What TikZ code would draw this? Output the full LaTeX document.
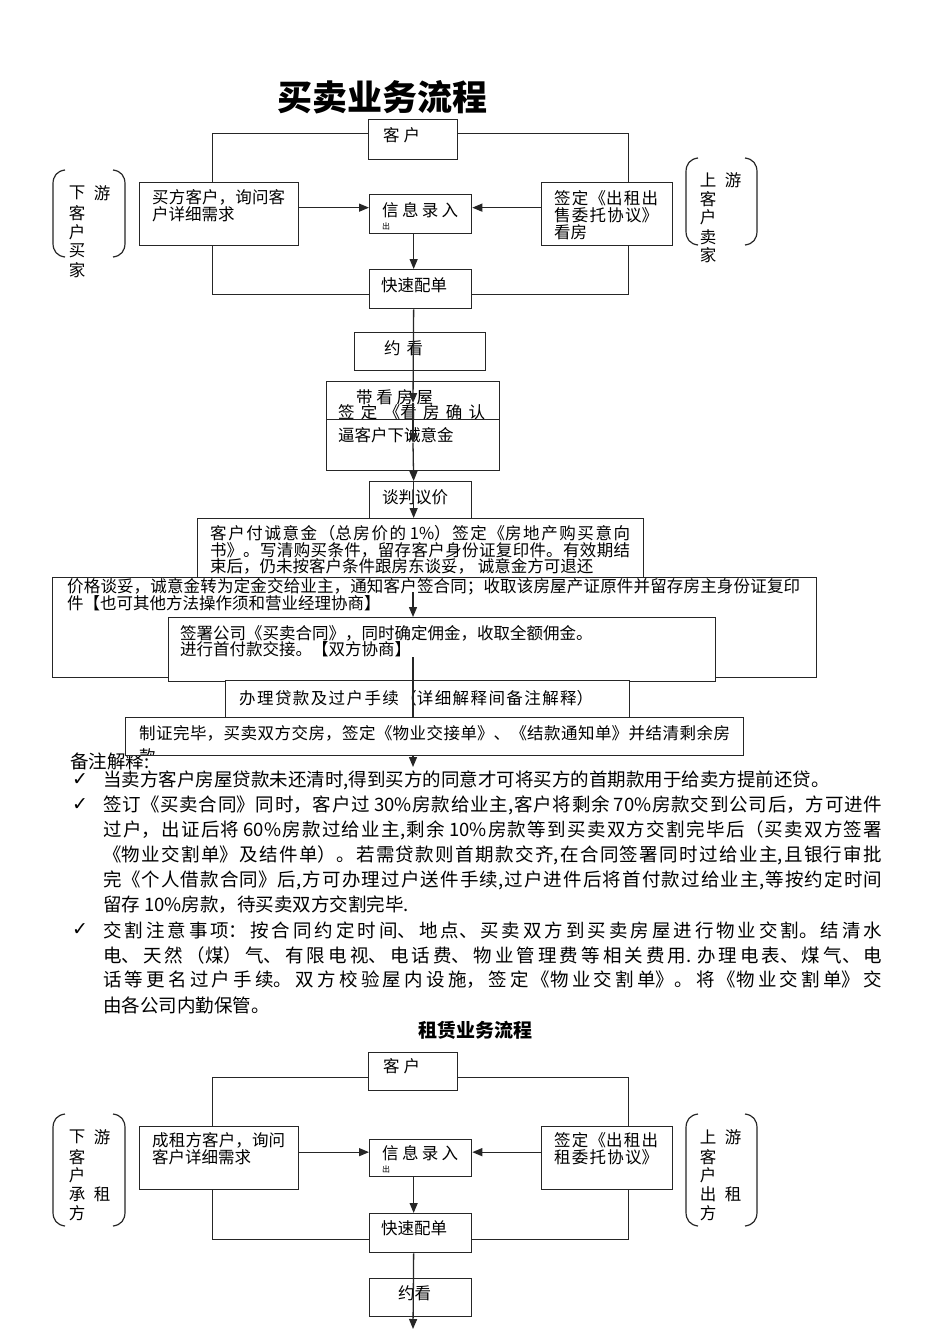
\documentclass[tikz,border=0pt]{standalone}
\usepackage{fontspec}
\setmainfont{Noto Sans CJK SC}
\newfontfamily\dejavu{DejaVu Sans}
\usetikzlibrary{arrows.meta}
\XeTeXlinebreaklocale "zh"
\XeTeXlinebreakskip=0pt plus 1pt
\tikzset{
  box/.style={draw=black!85, line width=1.3pt, fill=white, anchor=north west, inner sep=0pt},
  conn/.style={draw=black!85, line width=1.3pt},
  arr/.style={conn, -{Triangle[length=10pt,width=8pt]}},
  txt/.style={anchor=west, inner sep=0pt, font=\fontsize{16.5}{18}\selectfont},
  jus/.style={txt, text width=#1, align=justify,
    execute at begin node={\XeTeXlinebreakskip=0pt plus 1fil\parfillskip=0pt\relax}},
  note/.style={anchor=west, inner sep=0pt, font=\fontsize{18.5}{20}\selectfont},
  njus/.style={note, text width=779pt, align=justify,
    execute at begin node={\XeTeXlinebreakskip=0pt plus 1fil\parfillskip=0pt\relax}},
  chk/.style={inner sep=0pt, font=\dejavu\fontsize{19}{20}\selectfont},
  vch/.style={inner sep=0pt, font=\fontsize{16.5}{18}\selectfont},
  paren/.style={draw=black!85, line width=1.2pt},
}
\begin{document}
\begin{tikzpicture}[x=1pt,y=-1pt]
\useasboundingbox[fill=white] (0,0) rectangle (950,1344);

% ---------- titles ----------
\node[inner sep=0pt, font=\fontsize{35}{40}\selectfont\bfseries] (title1) at (382,97) {买卖业务流程};

% ---------- side brackets (top) ----------
\draw[paren] (65,170) .. controls (57,171) and (53,176) .. (53,184) -- (53,243) .. controls (53,251) and (57,256) .. (65,257);
\draw[paren] (113,170) .. controls (121,171) and (125,176) .. (125,184) -- (125,243) .. controls (125,251) and (121,256) .. (113,257);
\foreach \c/\x/\y [count=\i] in {下/77/193, 游/102/193, 客/77/213, 户/77/232, 买/77/251, 家/77/270}
  \node[vch] (la\i) at (\x,\y) {\c};
\draw[paren] (698,158) .. controls (690,159) and (686,164) .. (686,172) -- (686,231) .. controls (686,239) and (690,244) .. (698,245);
\draw[paren] (745,158) .. controls (753,159) and (757,164) .. (757,172) -- (757,231) .. controls (757,239) and (753,244) .. (745,245);
\foreach \c/\x/\y [count=\i] in {上/708/180, 游/733/180, 客/708/199, 户/708/217, 卖/708/237, 家/708/255}
  \node[vch] (ra\i) at (\x,\y) {\c};

% ---------- top flow boxes ----------
\node[box, minimum width=89pt, minimum height=40pt] (kehu1) at (368,119) {};
\node[jus=37pt] (kehu1t) at (383,135) {客户};

\node[box, minimum width=159pt, minimum height=63pt] (maifang) at (139,182) {};
\node[jus=133pt] (maifang1) at (152,197) {买方客户，询问客};
\node[txt] (maifang2) at (152,214) {户详细需求};

\node[box, minimum width=102pt, minimum height=39pt] (xinxi1) at (369,194) {};
\node[jus=76pt] (xinxi1t) at (382,210) {信息录入};
\begin{scope}
  \clip (370,195) rectangle (470,229);
  \node[inner sep=0pt, font=\fontsize{8}{8}\selectfont] (xinxi1c) at (386,226) {出};
\end{scope}

\node[box, minimum width=102pt, minimum height=39pt] (kuaisu1) at (369,269) {};
\node[txt] (kuaisu1t) at (381,285) {快速配单};

\node[box, minimum width=131pt, minimum height=63pt] (qianding1) at (541,182) {};
\node[jus=104pt] (qd1a) at (554,198) {签定《出租出};
\node[jus=104pt] (qd1b) at (554,215) {售委托协议》};
\node[txt] (qd1c) at (554,232) {看房};

\node[box, minimum width=131pt, minimum height=38pt] (yuekan1) at (354,332) {};
\node[jus=39pt] (yuekan1t) at (384,348) {约看};

\node[box, minimum width=173pt, minimum height=38pt] (daikan) at (326,381) {};
\node[jus=77pt] (daikan1) at (356,397) {带看房屋};
\node[jus=147pt] (daikan2) at (338,412) {签定《看房确认};
\node[box, minimum width=173pt, minimum height=51pt] (bi) at (326,419) {};
\node[txt] (bit) at (338,435) {逼客户下诚意金};

\node[box, minimum width=102pt, minimum height=40pt] (tanpan) at (369,481) {};
\node[txt] (tanpant) at (382,497) {谈判议价};

\node[box, minimum width=446pt, minimum height=70pt] (kehufu) at (197,518) {};
\node[jus=420pt] (kf1) at (210,533) {客户付诚意金（总房价的 1\%）签定《房地产购买意向};
\node[jus=420pt] (kf2) at (210,550) {书》。写清购买条件，留存客户身份证复印件。有效期结};
\node[txt] (kf3) at (210,566) {束后，仍未按客户条件跟房东谈妥， 诚意金方可退还};

\node[box, minimum width=764pt, minimum height=100pt] (jiage) at (52,577) {};
\node[jus=733pt] (jg1) at (67,587) {价格谈妥，诚意金转为定金交给业主，通知客户签合同；收取该房屋产证原件并留存房主身份证复印};
\node[txt] (jg2) at (67,603) {件【也可其他方法操作须和营业经理协商】};

\node[box, minimum width=547pt, minimum height=64pt] (qianshu) at (168,617) {};
\node[txt] (qs1) at (180,633) {签署公司《买卖合同》，同时确定佣金，收取全额佣金。};
\node[txt] (qs2) at (180,649) {进行首付款交接。【双方协商】};

\node[box, minimum width=404pt, minimum height=38pt] (banli) at (225,680) {};
\node[jus=354pt] (banlit) at (239,698) {办理贷款及过户手续（详细解释间备注解释）};

\node[note] (beizhu) at (70,761) {备注解释:};

\node[box, minimum width=618pt, minimum height=38pt] (zhizheng) at (125,717) {};
\begin{scope}
  \clip (126,718) rectangle (742,754);
  \node[jus=591pt] (zz1) at (139,733) {制证完毕，买卖双方交房，签定《物业交接单》、《结款通知单》并结清剩余房};
  \node[txt] (zz2) at (139,756) {款};
\end{scope}

% ---------- top connectors ----------
\draw[conn] ([yshift=6pt]kehu1.west) -| ([xshift=-6.5pt]maifang.north);
\draw[conn] ([xshift=-6.5pt]maifang.south) |- ([yshift=-5.5pt]kuaisu1.west);
\draw[arr] ([yshift=6.5pt]maifang.east) -- ([yshift=6.5pt]xinxi1.west);
\draw[conn] ([yshift=6pt]kehu1.east) -| ([xshift=21.5pt]qianding1.north);
\draw[conn] ([xshift=21.5pt]qianding1.south) |- ([yshift=-5.5pt]kuaisu1.east);
\draw[arr] ([yshift=6.5pt]qianding1.west) -- ([yshift=6.5pt]xinxi1.east);
\draw[arr] ([xshift=-7pt]xinxi1.south) -- ([xshift=-7pt]kuaisu1.north);
\coordinate (t1) at (413,403);
\coordinate (t2) at (413,443);
\draw[arr] ([xshift=-7pt]kuaisu1.south) -- (t1);
\draw[arr] (t1) -- (t2);
\draw[arr] (t2) -- ([xshift=-7pt]tanpan.north);
\draw[arr] ([xshift=-7pt]tanpan.north) -- ([xshift=-7pt]kehufu.north);
\coordinate (t5) at (413,592);
\draw[arr] (t5) -- (t5 |- qianshu.north);
\coordinate (t6) at (413,657);
\draw[conn] (t6) -- (t6 |- zhizheng.north);
\coordinate (t7) at (413,767);
\draw[arr] (t6 |- zhizheng.south) -- (t7);

% ---------- notes ----------
\node[chk] (c1) at (80,780) {✓};
\node[note] (n1) at (103,780) {当卖方客户房屋贷款未还清时,得到买方的同意才可将买方的首期款用于给卖方提前还贷。};
\node[chk] (c2) at (80,805) {✓};
\node[njus] (n2) at (103,805) {签订《买卖合同》同时，客户过 30\%房款给业主,客户将剩余 70\%房款交到公司后，方可进件};
\node[njus] (n3) at (103,830) {过户，出证后将 60\%房款过给业主,剩余 10\%房款等到买卖双方交割完毕后（买卖双方签署};
\node[njus] (n4) at (103,855) {《物业交割单》及结件单）。若需贷款则首期款交齐,在合同签署同时过给业主,且银行审批};
\node[njus] (n5) at (103,880) {完《个人借款合同》后,方可办理过户送件手续,过户进件后将首付款过给业主,等按约定时间};
\node[note] (n6) at (103,905) {留存 10\%房款，待买卖双方交割完毕.};
\node[chk] (c3) at (80,930) {✓};
\node[njus] (n7) at (103,930) {交割注意事项：按合同约定时间、地点、买卖双方到买卖房屋进行物业交割。结清水};
\node[njus] (n8) at (103,955) {电、天然（煤）气、有限电视、电话费、物业管理费等相关费用. 办理电表、煤气、电};
\node[njus] (n9) at (103,980) {话等更名过户手续。双方校验屋内设施，签定《物业交割单》。将《物业交割单》交};
\node[note] (n10) at (103,1005) {由各公司内勤保管。};

% ---------- rental section ----------
\node[inner sep=0pt, font=\fontsize{19}{22}\selectfont\bfseries] (title2) at (475,1030) {租赁业务流程};

\draw[paren] (65,1114) .. controls (57,1115) and (53,1120) .. (53,1128) -- (53,1212) .. controls (53,1220) and (57,1225) .. (65,1226);
\draw[paren] (113,1114) .. controls (121,1115) and (125,1120) .. (125,1128) -- (125,1212) .. controls (125,1220) and (121,1225) .. (113,1226);
\foreach \c/\x/\y [count=\i] in {下/77/1137, 游/102/1137, 客/77/1157, 户/77/1175, 承/77/1194, 租/102/1194, 方/77/1213}
  \node[vch] (lb\i) at (\x,\y) {\c};
\draw[paren] (698,1114) .. controls (690,1115) and (686,1120) .. (686,1128) -- (686,1212) .. controls (686,1220) and (690,1225) .. (698,1226);
\draw[paren] (745,1114) .. controls (753,1115) and (757,1120) .. (757,1128) -- (757,1212) .. controls (757,1220) and (753,1225) .. (745,1226);
\foreach \c/\x/\y [count=\i] in {上/708/1137, 游/733/1137, 客/708/1157, 户/708/1175, 出/708/1194, 租/733/1194, 方/708/1213}
  \node[vch] (rb\i) at (\x,\y) {\c};

\node[box, minimum width=89pt, minimum height=38pt] (kehu2) at (368,1052) {};
\node[jus=37pt] (kehu2t) at (383,1066) {客户};

\node[box, minimum width=159pt, minimum height=63pt] (chengzu) at (139,1126) {};
\node[jus=133pt] (cz1) at (152,1140) {成租方客户，询问};
\node[txt] (cz2) at (152,1157) {客户详细需求};

\node[box, minimum width=102pt, minimum height=37pt] (xinxi2) at (369,1139) {};
\node[jus=76pt] (xinxi2t) at (382,1153) {信息录入};
\begin{scope}
  \clip (370,1140) rectangle (470,1172);
  \node[inner sep=0pt, font=\fontsize{8}{8}\selectfont] (xinxi2c) at (386,1169) {出};
\end{scope}

\node[box, minimum width=102pt, minimum height=39pt] (kuaisu2) at (369,1213) {};
\node[txt] (kuaisu2t) at (381,1228) {快速配单};

\node[box, minimum width=102pt, minimum height=38pt] (yuekan2) at (369,1278) {};
\node[txt] (yuekan2t) at (398,1293) {约看};

\node[box, minimum width=131pt, minimum height=63pt] (qianding2) at (541,1126) {};
\node[jus=104pt] (qd2a) at (554,1140) {签定《出租出};
\node[jus=104pt] (qd2b) at (554,1157) {租委托协议》};

\draw[conn] ([yshift=-6pt]kehu2.west) -| ([xshift=-6.5pt]chengzu.north);
\draw[conn] ([xshift=-6.5pt]chengzu.south) |- ([yshift=-6.5pt]kuaisu2.west);
\draw[arr] ([yshift=6pt]chengzu.east) -- ([yshift=6pt]xinxi2.west);
\draw[conn] ([yshift=-6pt]kehu2.east) -| ([xshift=21.5pt]qianding2.north);
\draw[conn] ([xshift=21.5pt]qianding2.south) |- ([yshift=-6.5pt]kuaisu2.east);
\draw[arr] ([yshift=6pt]qianding2.west) -- ([yshift=6pt]xinxi2.east);
\draw[arr] ([xshift=-7pt]xinxi2.south) -- ([xshift=-7pt]kuaisu2.north);
\coordinate (t9) at (413,1329);
\draw[arr] ([xshift=-7pt]kuaisu2.south) -- (t9);
\end{tikzpicture}
\end{document}
